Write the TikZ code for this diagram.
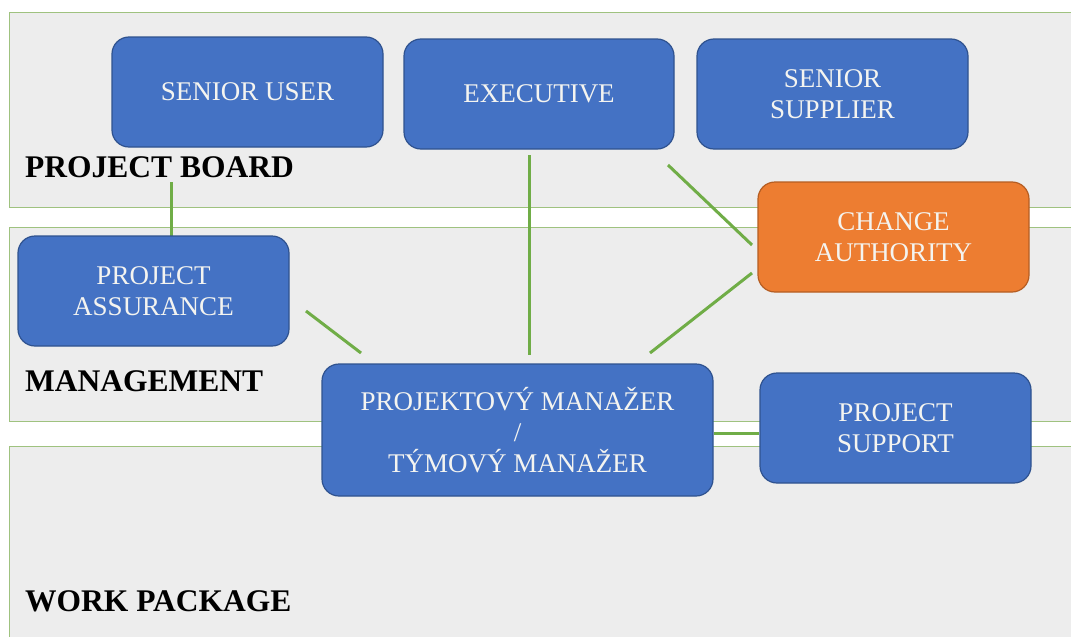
\documentclass[tikz,border=0pt]{standalone}
\usepackage{fontspec}
\setmainfont{Liberation Serif}
\definecolor{bandfill}{HTML}{EDEDED}
\definecolor{bandline}{HTML}{9FC27F}
\definecolor{boxblue}{HTML}{4472C4}
\definecolor{boxblueline}{HTML}{2F528F}
\definecolor{boxorange}{HTML}{ED7D31}
\definecolor{boxorangeline}{HTML}{B55D22}
\definecolor{linkgreen}{HTML}{70AD47}
\definecolor{boxtext}{HTML}{F4F4F0}
\tikzset{
  band/.style={fill=bandfill, draw=bandline, line width=1pt},
  rolebox/.style={draw=boxblueline, fill=boxblue, line width=1.2pt, rounded corners=17pt,
    text=boxtext, align=center, inner sep=0pt,
    font=\fontsize{27}{31}\selectfont},
  orangebox/.style={rolebox, draw=boxorangeline, fill=boxorange},
  bandlabel/.style={anchor=base west, inner sep=0pt, font=\fontsize{31.5}{34}\selectfont\bfseries},
  link/.style={draw=linkgreen, line width=3pt}
}
\begin{document}
\begin{tikzpicture}[x=1pt, y=-1pt]
  \useasboundingbox (0,0) rectangle (1071,637);
  \fill[white] (0,0) rectangle (1071,637);
  \clip (0,0) rectangle (1071,637);

  % swim lanes
  \draw[band] (9,12) rectangle (1080,207);
  \draw[band] (9,227) rectangle (1080,421);
  \draw[band] (9,446) rectangle (1080,650);
  \node[bandlabel] (lboard) at (25,177) {PROJECT BOARD};
  \node[bandlabel] (lmgmt) at (25,391) {MANAGEMENT};
  \node[bandlabel] (lwork) at (25,611) {WORK PACKAGE};

  % connectors (drawn beneath the boxes)
  \coordinate (c1a) at (171,182); \coordinate (c1b) at (171,236);
  \coordinate (c2a) at (306,311); \coordinate (c2b) at (361,353);
  \coordinate (c3a) at (529,155); \coordinate (c3b) at (529,355);
  \coordinate (c4a) at (668,165); \coordinate (c4b) at (752,245);
  \coordinate (c5a) at (650,353); \coordinate (c5b) at (752,273);
  \draw[link] (c1a) -- (c1b);
  \draw[link] (c2a) -- (c2b);
  \draw[link] (c3a) -- (c3b);
  \draw[link] (c4a) -- (c4b);
  \draw[link] (c5a) -- (c5b);

  % roles
  \node[rolebox, minimum width=271pt, minimum height=110pt] (su) at (247.5,92) {SENIOR USER};
  \node[rolebox, minimum width=270pt, minimum height=110pt] (ex) at (539,94) {EXECUTIVE};
  \node[rolebox, minimum width=271pt, minimum height=110pt] (ss) at (832.5,94) {SENIOR\\SUPPLIER};
  \node[orangebox, minimum width=271pt, minimum height=110pt] (ca) at (893.5,237) {CHANGE\\AUTHORITY};
  \node[rolebox, minimum width=271pt, minimum height=110pt] (pa) at (153.5,291) {PROJECT\\ASSURANCE};
  \node[rolebox, minimum width=391pt, minimum height=132pt] (pm) at (517.5,430) {PROJEKTOVÝ MANAŽER\\/\\TÝMOVÝ MANAŽER};
  \node[rolebox, minimum width=271pt, minimum height=110pt] (ps) at (895.5,428) {PROJECT\\SUPPORT};

  \draw[link] (pm.east |- 0,433) -- (ps.west |- 0,433);
\end{tikzpicture}
\end{document}
